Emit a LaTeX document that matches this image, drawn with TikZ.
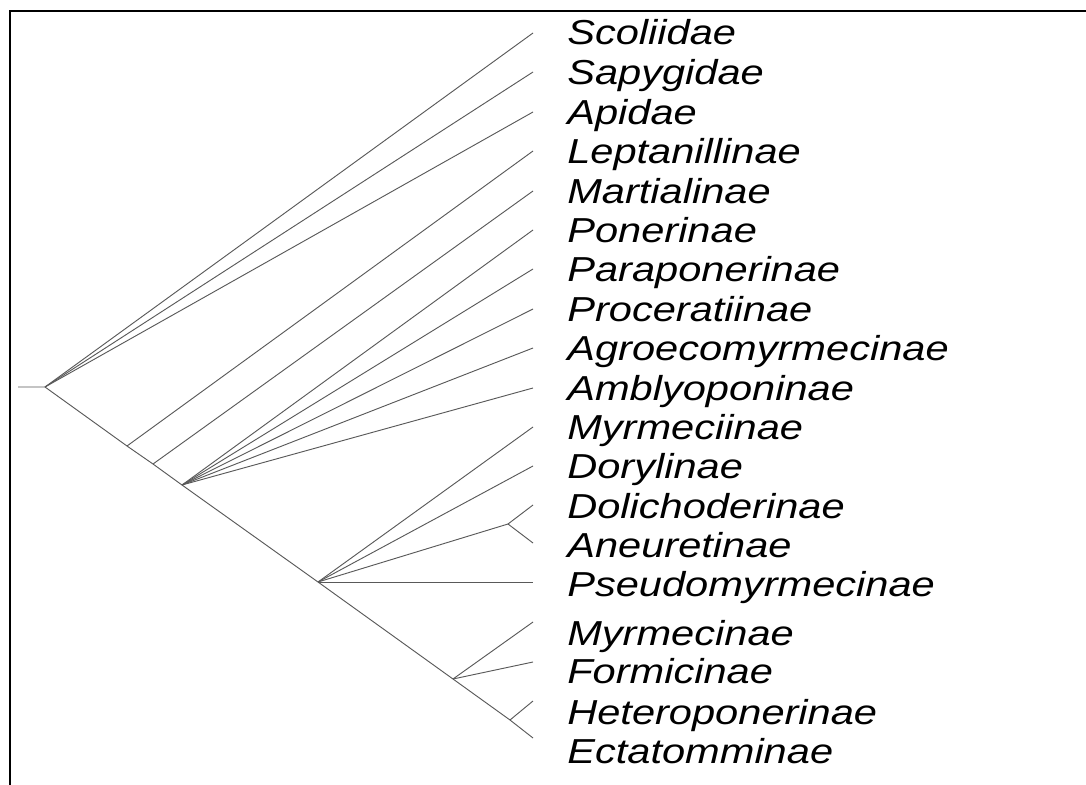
\documentclass[tikz,border=0pt]{standalone}
\usepackage{fontspec}
\setmainfont{Liberation Sans}
\begin{document}
\begin{tikzpicture}[x=0.75pt,y=-0.75pt,
  br/.style={draw=black!65, line width=0.7pt},
  lab/.style={anchor=base west, inner sep=0pt, font=\addfontfeature{FakeStretch=1.2}\fontsize{26}{30}\selectfont\itshape}]
\useasboundingbox (0,0) rectangle (1086,785);
\draw[line width=1.5pt] (9.5,785) -- (9.5,11) -- (1086,11);
% internal nodes
\coordinate (r0) at (18,387);
\coordinate (root) at (45,387);
\coordinate (n1) at (127,446);
\coordinate (n2) at (153,464);
\coordinate (n3) at (182,485);
\coordinate (n4) at (318,582);
\coordinate (nd) at (508,524);
\coordinate (n5) at (453,679);
\coordinate (n6) at (510,720);
% leaf ends
\foreach \n/\y in {Scol/33,Sapy/72,Apid/112,Lept/151,Mart/191,Pone/230,Para/269,Proc/309,Agro/348,Ambl/388,Myrm/427,Dory/466,Doli/505,Aneu/543,Pseu/582,Myrc/622,Form/662,Hete/701,Ecta/738}
  \coordinate (e\n) at (533,\y);
% labels
\foreach \n/\y/\t in {Scol/33/Scoliidae,Sapy/72/Sapygidae,Apid/112/Apidae,Lept/151/Leptanillinae,Mart/191/Martialinae,Pone/230/Ponerinae,Para/269/Paraponerinae,Proc/309/Proceratiinae,Agro/348/Agroecomyrmecinae,Ambl/388/Amblyoponinae,Myrm/427/Myrmeciinae,Dory/466/Dorylinae,Doli/506/Dolichoderinae,Aneu/545/Aneuretinae,Pseu/584/Pseudomyrmecinae,Myrc/633/Myrmecinae,Form/671/Formicinae,Hete/712/Heteroponerinae,Ecta/751/Ectatomminae}
  \node[lab] (l\n) at (567,\y+12) {\t};
% branches
\draw[br] (r0) -- (root) -- (n1) -- (n2) -- (n3) -- (n4) -- (n5) -- (n6) -- (eEcta);
\draw[br] (root) -- (eScol);
\draw[br] (root) -- (eSapy);
\draw[br] (root) -- (eApid);
\draw[br] (n1) -- (eLept);
\draw[br] (n2) -- (eMart);
\foreach \n in {Pone,Para,Proc,Agro,Ambl} \draw[br] (n3) -- (e\n);
\draw[br] (n4) -- (eMyrm);
\draw[br] (n4) -- (eDory);
\draw[br] (n4) -- (nd);
\draw[br] (nd) -- (eDoli);
\draw[br] (nd) -- (eAneu);
\draw[br] (n4) -- (ePseu);
\draw[br] (n5) -- (eMyrc);
\draw[br] (n5) -- (eForm);
\draw[br] (n6) -- (eHete);
\end{tikzpicture}
\end{document}
